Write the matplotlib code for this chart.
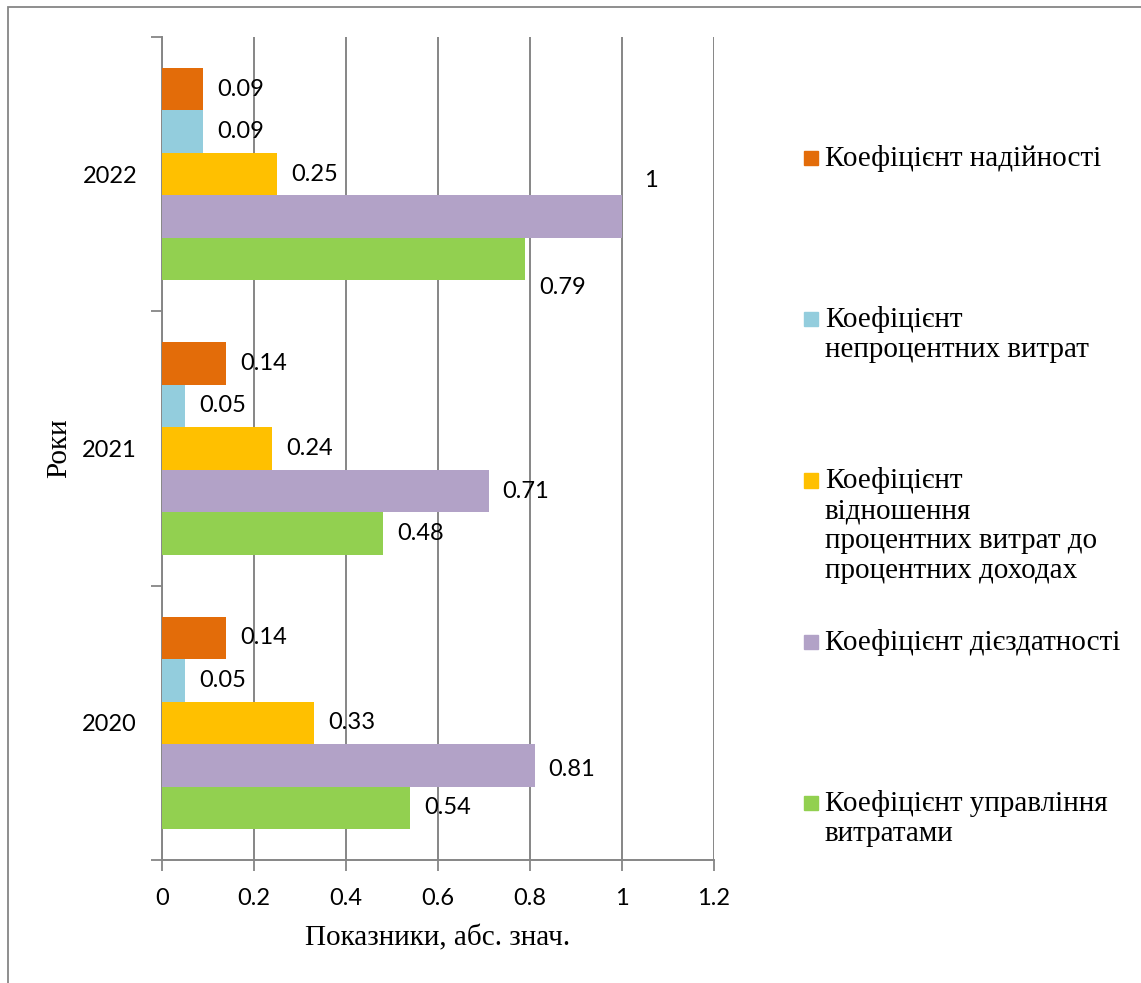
import matplotlib
matplotlib.use("Agg")
import matplotlib.pyplot as plt
from matplotlib.patches import Rectangle
import numpy as np

# ---------------------------------------------------
# Дані
# ---------------------------------------------------
roky = ["2020", "2021", "2022"]
seriyi = [
    "Коефіцієнт надійності",
    "Коефіцієнт\nнепроцентних витрат",
    "Коефіцієнт\nвідношення\nпроцентних витрат до\nпроцентних доходах",
    "Коефіцієнт дієздатності",
    "Коефіцієнт управління\nвитратами",
]
nadiynist = [0.14, 0.14, 0.09]
neprots_vytraty = [0.05, 0.05, 0.09]
vidnoshennya = [0.33, 0.24, 0.25]
diyezdatnist = [0.81, 0.71, 1.0]
upravlinnya = [0.54, 0.48, 0.79]
znachennya = [nadiynist, neprots_vytraty, vidnoshennya, diyezdatnist, upravlinnya]
x_ticks = [0, 0.2, 0.4, 0.6, 0.8, 1, 1.2]

kolory = ["#E36C09", "#93CDDD", "#FFC000", "#B2A2C7", "#92D050"]

# зсув підписів (у пікселях), як в Excel
zsuv = {(4, 2): (0, -28), (3, 2): (8, 36), (3, 0): (0, -4)}

plt.rcParams["font.family"] = ["Lato", "DejaVu Sans"]

fig = plt.figure(figsize=(11.41, 9.83), dpi=100)
ax = fig.add_axes([162 / 1141, 1 - 860 / 983, (714 - 162) / 1141, (860 - 37) / 983])

h = 0.155
y = np.arange(len(roky))
for i, (vals, c) in enumerate(zip(znachennya, kolory)):
    pos = y + (2 - i) * h
    ax.barh(pos, vals, height=h, color=c, zorder=3)
    for j, v in enumerate(vals):
        dx, dy = zsuv.get((i, j), (0, 0))
        txt = "1" if v == 1 else f"{v:g}"
        ax.annotate(txt, (v, pos[j]), xytext=(14 + dx, dy), textcoords="offset pixels",
                    va="center", ha="left", fontsize=17, color="#000000", zorder=4)

ax.set_xlim(0, 1.2)
ax.set_ylim(-0.5, 2.5)
ax.set_xticks(x_ticks)
ax.set_xticklabels(["0", "0.2", "0.4", "0.6", "0.8", "1", "1.2"], fontsize=17)
ax.set_yticks(y)
ax.set_yticklabels(roky, fontsize=17)
ax.set_yticks([-0.5, 0.5, 1.5, 2.5], minor=True)
ax.tick_params(axis="y", which="major", length=0, pad=18)
ax.tick_params(axis="y", which="minor", length=8, width=1.3, color="#868686")
ax.tick_params(axis="x", length=8, width=1.3, color="#868686", pad=12)
ax.grid(axis="x", color="#868686", linewidth=1.4, zorder=0)
for s in ["top", "right"]:
    ax.spines[s].set_visible(False)
for s in ["left", "bottom"]:
    ax.spines[s].set_color("#868686")
    ax.spines[s].set_linewidth(1.4)

ax.set_xlabel("Показники, абс. знач.", fontsize=21, family="Liberation Serif", labelpad=12)
ax.set_ylabel("Роки", fontsize=21, family="Liberation Serif", labelpad=7)

# легенда вручну, рівні кроки між пунктами
for k, (lab, c) in enumerate(zip(seriyi, kolory)):
    yc = 158 + k * 161.25
    fig.patches.append(Rectangle((804 / 1141, 1 - (yc + 7) / 983), 14 / 1141, 14 / 983,
                                 transform=fig.transFigure, color=c))
    fig.text(825 / 1141, 1 - (yc - 13) / 983, lab, va="top", ha="left", fontsize=21,
             family="Liberation Serif", linespacing=1.2)

# рамка навколо діаграми
fig.patches.append(Rectangle((8 / 1141, -0.1), 1.2, 1 - 7 / 983 + 0.1, transform=fig.transFigure,
                             fill=False, edgecolor="#868686", linewidth=1.3))

fig.savefig("out.png", dpi=100)
